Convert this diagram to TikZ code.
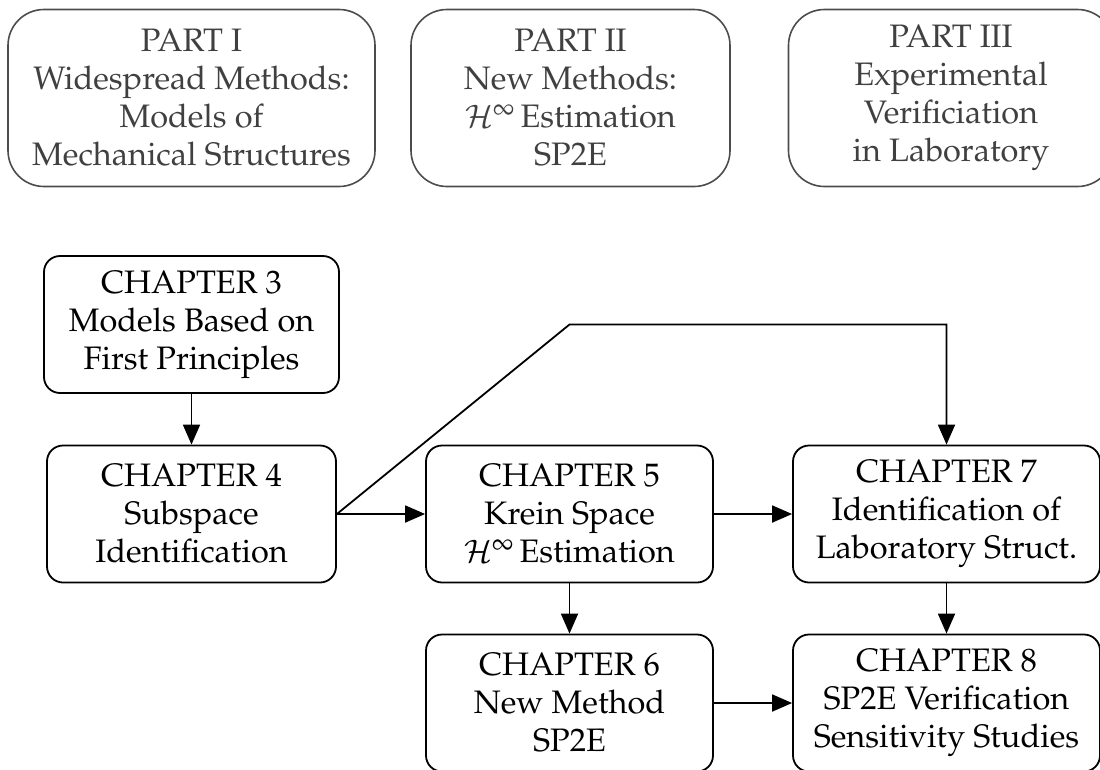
\documentclass[tikz,border=0pt]{standalone}
\usepackage{fix-cm}
\usepackage[T1]{fontenc}
\usepackage{mathpazo}
\DeclareMathAlphabet{\cmcal}{OMS}{cmsy}{m}{n}
\usetikzlibrary{arrows.meta}
\tikzset{
  big/.style={font=\fontsize{32.5}{38}\selectfont},
  partbox/.style={big, draw=black!70, text=black!75, rounded corners=36pt,
    line width=1.6pt, align=center, inner sep=0pt, minimum height=177pt},
  chapbox/.style={big, draw, rounded corners=16pt, line width=1.8pt,
    align=center, inner sep=0pt, minimum height=137pt},
  flow/.style={-{Triangle[length=20pt,width=17pt]}, line width=1.8pt}
}
\begin{document}
\begin{tikzpicture}[x=1pt, y=-1pt]
\useasboundingbox (0,0) rectangle (1100,769);

% the three parts
\node[partbox, minimum width=367pt] (p1) at (191.5,98)
  {PART I\\Widespread Methods:\\Models of\\Mechanical Structures};
\node[partbox, minimum width=319pt] (p2) at (570.5,98)
  {PART II\\New Methods:\\$\cmcal{H}^\infty$\,Estimation\\SP2E};
\node[partbox, minimum width=325pt] (p3) at (951,98)
  {PART III\\Experimental\\Verificiation\\in Laboratory};

% chapters
\node[chapbox, minimum width=295pt] (c3) at (191.5,324.5)
  {CHAPTER 3\\Models Based on\\First Principles};
\node[chapbox, minimum width=289pt] (c4) at (191.5,514)
  {CHAPTER 4\\Subspace\\Identification};
\node[chapbox, minimum width=287pt] (c5) at (569.5,514)
  {CHAPTER 5\\Krein Space\\$\cmcal{H}^\infty$\,Estimation};
\node[chapbox, minimum width=307pt] (c7) at (946.5,514)
  {CHAPTER 7\\Identification of\\Laboratory Struct.};
\node[chapbox, minimum width=287pt] (c6) at (569.5,703)
  {CHAPTER 6\\New Method\\SP2E};
\node[chapbox, minimum width=307pt] (c8) at (946.5,703)
  {CHAPTER 8\\SP2E Verification\\Sensitivity Studies};

% connectors
\coordinate (bend) at (c5 |- c3);
\draw[flow] (c3.south) -- (c4.north);
\draw[flow] (c4.east) -- (c5.west);
\draw[flow] (c5.east) -- (c7.west);
\draw[flow] (c5.south) -- (c6.north);
\draw[flow] (c7.south) -- (c8.north);
\draw[flow] (c6.east) -- (c8.west);
\draw[flow] (c4.east) -- (bend) -| (c7.north);
\end{tikzpicture}
\end{document}
